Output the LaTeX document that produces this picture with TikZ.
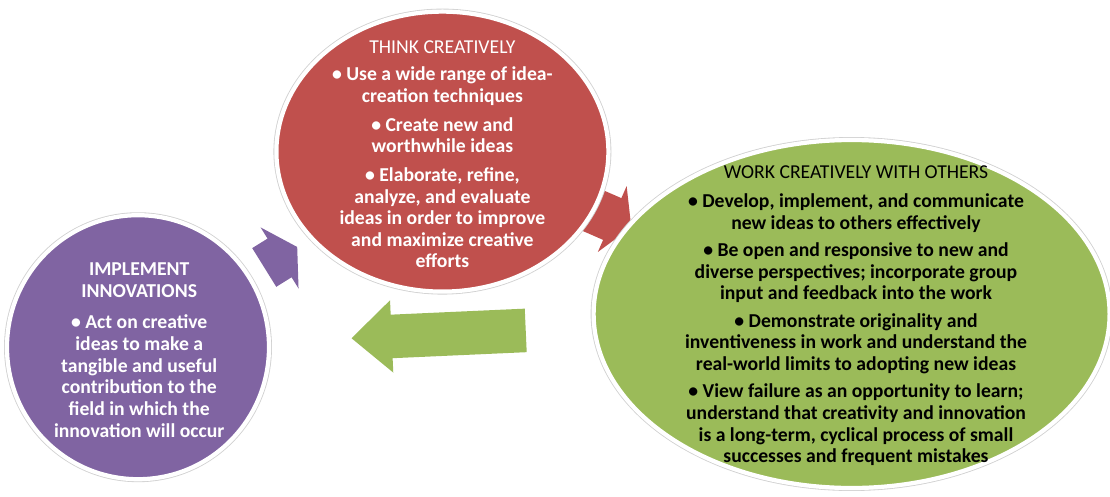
\documentclass[tikz,border=0pt]{standalone}
\usepackage{fontspec}
\setmainfont{Carlito}
\usetikzlibrary{shapes.geometric,shapes.arrows,positioning}

\definecolor{thinkred}{HTML}{C0504D}
\definecolor{workgreen}{HTML}{9BBB59}
\definecolor{implpurple}{HTML}{8064A2}

\tikzset{
	blob/.style={ellipse, inner sep=0pt, draw=white, line width=3pt,
		preaction={draw=black!18, line width=4.2pt}},
	blurb/.style={align=center, inner sep=0pt,
		font=\fontsize{14}{15.4}\selectfont\bfseries},
	fatarrow/.style={single arrow, anchor=tail, inner xsep=0pt, inner ysep=0.5625cm,
		draw=none, minimum width=1.79cm, single arrow head extend=0.33cm}
}

\begin{document}
\begin{tikzpicture}
		
		\useasboundingbox (0,0) rectangle (27.75,12.4);
		
		
		% block arrows go first, the ellipses cover their ends
		\node[fatarrow, fill=implpurple, rotate=31.85, minimum height=0.97cm,
			single arrow tip angle=120] (toThink) at (6.6,5.71) {};
		\node[fatarrow, fill=thinkred, rotate=-23.6, minimum height=1.25cm,
			single arrow tip angle=120] (toWork) at (14.63,7.22) {};
		\node[fatarrow, fill=workgreen, rotate=182.57, minimum height=4.36cm,
			inner ysep=0.5375cm, single arrow head extend=0.36cm,
			single arrow tip angle=84] (toImpl) at (13.15,4.14) {};
		
		
		\node[blob, fill=thinkred, minimum width=8.3cm, minimum height=7cm] (think) at (11.06,8.61) {};
		\node[blob, fill=workgreen, minimum width=12.9cm, minimum height=8.7cm] (work) at (21.29,4.55) {};
		\node[blob, fill=implpurple, minimum width=6.55cm, minimum height=6.6cm] (impl) at (3.45,3.72) {};
		
		
		\node[blurb, text=white, yshift=-0.07cm] (thinktxt) at (think) {%
			{\mdseries THINK CREATIVELY}\\[4pt]
			• Use a wide range of idea-\\
			creation techniques\\[5pt]
			• Create new and\\
			worthwhile ideas\\[5pt]
			• Elaborate, refine,\\
			analyze, and evaluate\\
			ideas in order to improve\\
			and maximize creative\\
			efforts};
		
		\node[blurb, text=black, xshift=0.11cm, yshift=-0.05cm] (worktxt) at (work) {%
			{\mdseries WORK CREATIVELY WITH OTHERS}\\[5pt]
			• Develop, implement, and communicate\\
			new ideas to others effectively\\[4pt]
			• Be open and responsive to new and\\
			diverse perspectives; incorporate group\\
			input and feedback into the work\\[4pt]
			• Demonstrate originality and\\
			inventiveness in work and understand the\\
			real-world limits to adopting new ideas\\[4pt]
			• View failure as an opportunity to learn;\\
			understand that creativity and innovation\\
			is a long-term, cyclical process of small\\
			successes and frequent mistakes};
		
		\node[blurb, text=white, xshift=0.03cm, yshift=-0.07cm] (impltxt) at (impl) {%
			IMPLEMENT\\
			INNOVATIONS\\[7pt]
			• Act on creative\\
			ideas to make a\\
			tangible and useful\\
			contribution to the\\
			field in which the\\
			innovation will occur};
		
		
	\end{tikzpicture}
\end{document}
